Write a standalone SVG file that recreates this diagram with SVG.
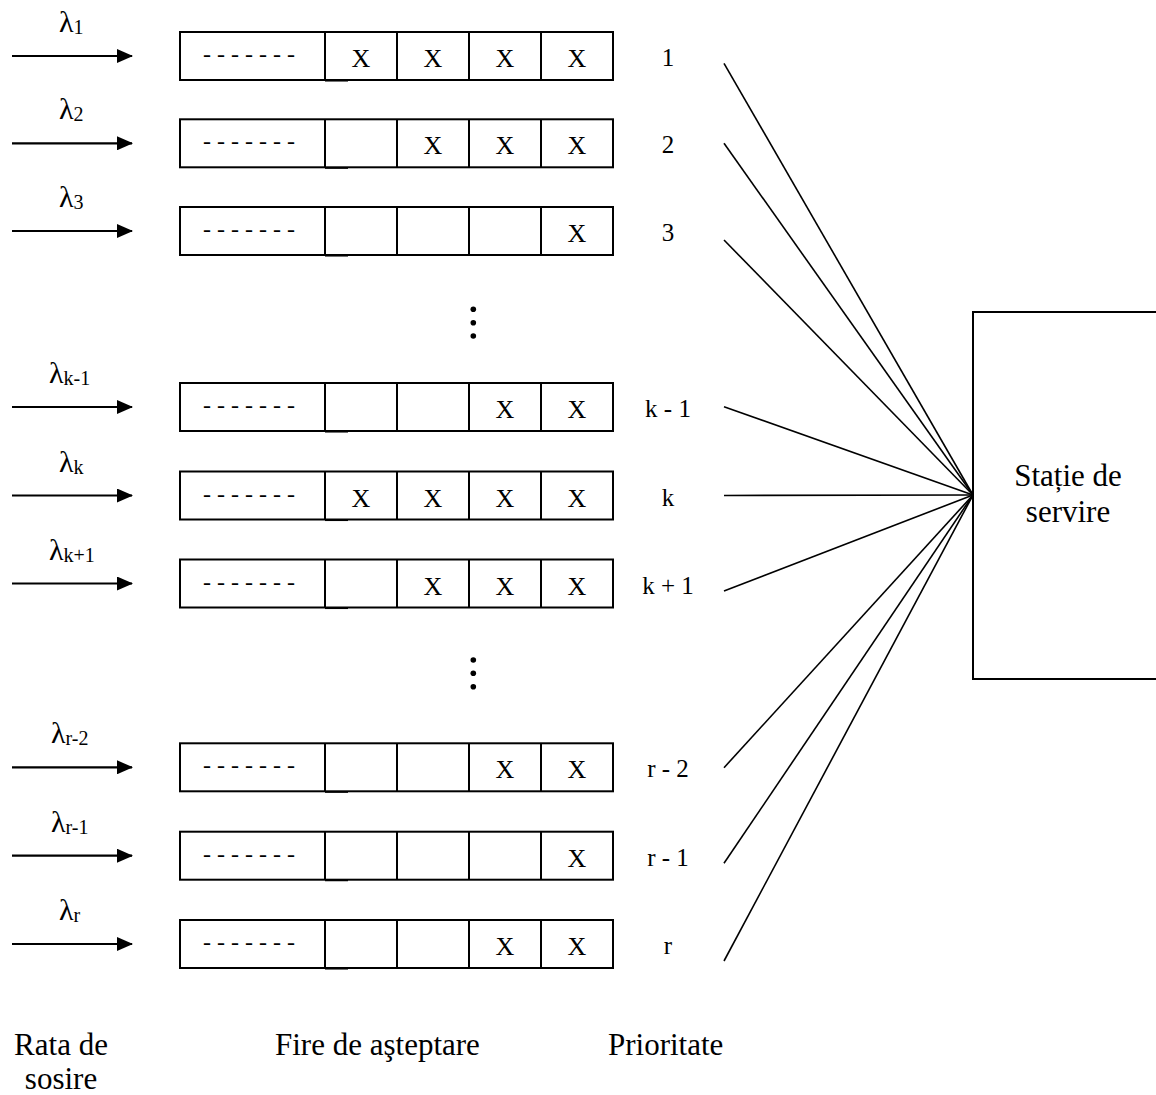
<svg xmlns="http://www.w3.org/2000/svg" width="1156" height="1095" viewBox="0 0 1156 1095">
  <style>
    text { font-family: "Liberation Serif", "Times New Roman", serif; fill: #000; }
    .lam { font-size: 30px; }
    .sub { font-size: 20px; }
    .cell { font-size: 26px; text-anchor: middle; }
    .dash { font-size: 24px; }
    .prio { font-size: 25px; text-anchor: middle; }
    .big { font-size: 31px; }
    .box { fill: #fff; stroke: #000; stroke-width: 2; }
    .div { stroke: #000; stroke-width: 2; }
    .tick { stroke: #000; stroke-width: 1.5; }
    .arr { stroke: #000; stroke-width: 2.2; fill: none; }
    .fan { stroke: #000; stroke-width: 1.6; fill: none; }
  </style>
  <defs>
    <marker id="head" viewBox="0 0 16 14" refX="15" refY="7" markerWidth="16" markerHeight="14" markerUnits="userSpaceOnUse" orient="auto">
      <path d="M0,0 L16,7 L0,14 Z" fill="#000"/>
    </marker>
    <!-- queue: open-ended buffer, four slots -->
    <g id="queue">
      <rect class="box" x="180" y="-24" width="433" height="48"/>
      <line class="div" x1="325" y1="-24" x2="325" y2="24"/>
      <line class="div" x1="397" y1="-24" x2="397" y2="24"/>
      <line class="div" x1="469" y1="-24" x2="469" y2="24"/>
      <line class="div" x1="541" y1="-24" x2="541" y2="24"/>
      <line class="tick" x1="325" y1="24.8" x2="348" y2="24.8"/>
      <text class="dash" x="203" y="6">- - - - - - -</text>
      <line class="arr" x1="12" y1="0" x2="132" y2="0" marker-end="url(#head)"/>
    </g>
  </defs>

  <!-- priority 1 -->
  <g id="row-1" transform="translate(0,56)">
    <use href="#queue"/>
    <text class="lam" x="59" y="-24">λ<tspan class="sub" dy="2">1</tspan></text>
    <text class="cell" x="361" y="11">X</text>
    <text class="cell" x="433" y="11">X</text>
    <text class="cell" x="505" y="11">X</text>
    <text class="cell" x="577" y="11">X</text>
    <text class="prio" x="668" y="10">1</text>
  </g>

  <!-- priority 2 -->
  <g id="row-2" transform="translate(0,143.3)">
    <use href="#queue"/>
    <text class="lam" x="59" y="-24">λ<tspan class="sub" dy="2">2</tspan></text>
    <text class="cell" x="433" y="11">X</text>
    <text class="cell" x="505" y="11">X</text>
    <text class="cell" x="577" y="11">X</text>
    <text class="prio" x="668" y="10">2</text>
  </g>

  <!-- priority 3 -->
  <g id="row-3" transform="translate(0,231)">
    <use href="#queue"/>
    <text class="lam" x="59" y="-24">λ<tspan class="sub" dy="2">3</tspan></text>
    <text class="cell" x="577" y="11">X</text>
    <text class="prio" x="668" y="10">3</text>
  </g>

  <!-- priority k-1 -->
  <g id="row-k-1" transform="translate(0,407)">
    <use href="#queue"/>
    <text class="lam" x="49" y="-24">λ<tspan class="sub" dy="2">k-1</tspan></text>
    <text class="cell" x="505" y="11">X</text>
    <text class="cell" x="577" y="11">X</text>
    <text class="prio" x="668" y="10">k - 1</text>
  </g>

  <!-- priority k -->
  <g id="row-k" transform="translate(0,495.5)">
    <use href="#queue"/>
    <text class="lam" x="59" y="-24">λ<tspan class="sub" dy="2">k</tspan></text>
    <text class="cell" x="361" y="11">X</text>
    <text class="cell" x="433" y="11">X</text>
    <text class="cell" x="505" y="11">X</text>
    <text class="cell" x="577" y="11">X</text>
    <text class="prio" x="668" y="10">k</text>
  </g>

  <!-- priority k+1 -->
  <g id="row-k+1" transform="translate(0,583.5)">
    <use href="#queue"/>
    <text class="lam" x="49" y="-24">λ<tspan class="sub" dy="2">k+1</tspan></text>
    <text class="cell" x="433" y="11">X</text>
    <text class="cell" x="505" y="11">X</text>
    <text class="cell" x="577" y="11">X</text>
    <text class="prio" x="668" y="10">k + 1</text>
  </g>

  <!-- priority r-2 -->
  <g id="row-r-2" transform="translate(0,767.3)">
    <use href="#queue"/>
    <text class="lam" x="51" y="-24">λ<tspan class="sub" dy="2">r-2</tspan></text>
    <text class="cell" x="505" y="11">X</text>
    <text class="cell" x="577" y="11">X</text>
    <text class="prio" x="668" y="10">r - 2</text>
  </g>

  <!-- priority r-1 -->
  <g id="row-r-1" transform="translate(0,855.7)">
    <use href="#queue"/>
    <text class="lam" x="51" y="-24">λ<tspan class="sub" dy="2">r-1</tspan></text>
    <text class="cell" x="577" y="11">X</text>
    <text class="prio" x="668" y="10">r - 1</text>
  </g>

  <!-- priority r -->
  <g id="row-r" transform="translate(0,944)">
    <use href="#queue"/>
    <text class="lam" x="59" y="-24">λ<tspan class="sub" dy="2">r</tspan></text>
    <text class="cell" x="505" y="11">X</text>
    <text class="cell" x="577" y="11">X</text>
    <text class="prio" x="668" y="10">r</text>
  </g>

  <!-- vertical ellipses between row groups -->
  <g id="gap-1" fill="#000">
    <circle cx="473.3" cy="309.3" r="2.8"/>
    <circle cx="473.3" cy="322.7" r="2.8"/>
    <circle cx="473.3" cy="336" r="2.8"/>
  </g>
  <g id="gap-2" fill="#000">
    <circle cx="473.3" cy="660" r="2.8"/>
    <circle cx="473.3" cy="673.3" r="2.8"/>
    <circle cx="473.3" cy="686.7" r="2.8"/>
  </g>

  <!-- server -->
  <g id="server">
    <rect class="box" x="973" y="312" width="200" height="367"/>
    <text class="big" x="1068" y="486" text-anchor="middle">Stație de</text>
    <text class="big" x="1068" y="522" text-anchor="middle">servire</text>
  </g>

  <!-- fan-in from each queue to the server -->
  <g id="connectors">
    <line class="fan" x1="724" y1="63.3" x2="973" y2="495"/>
    <line class="fan" x1="724" y1="143.3" x2="973" y2="495"/>
    <line class="fan" x1="724" y1="240" x2="973" y2="495"/>
    <line class="fan" x1="724" y1="406.7" x2="973" y2="495"/>
    <line class="fan" x1="724" y1="495.5" x2="973" y2="495"/>
    <line class="fan" x1="724" y1="591" x2="973" y2="495"/>
    <line class="fan" x1="724" y1="767.7" x2="973" y2="495"/>
    <line class="fan" x1="724" y1="863.3" x2="973" y2="495"/>
    <line class="fan" x1="724" y1="961" x2="973" y2="495"/>
  </g>

  <!-- column captions -->
  <g id="captions">
    <text class="big" x="61" y="1055" text-anchor="middle">Rata de</text>
    <text class="big" x="61" y="1089" text-anchor="middle">sosire</text>
    <text class="big" x="275" y="1055">Fire de aşteptare</text>
    <text class="big" x="608" y="1055">Prioritate</text>
  </g>
</svg>
